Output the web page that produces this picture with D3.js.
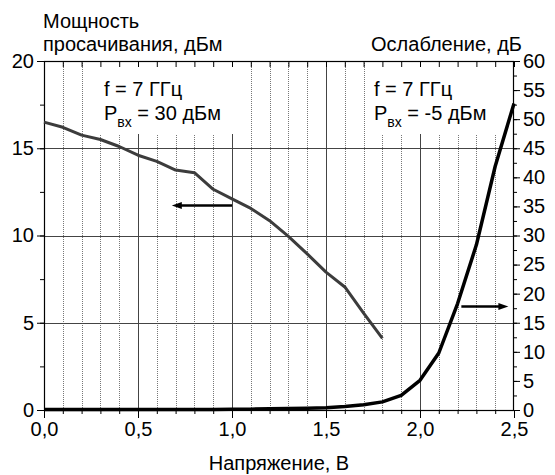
<!DOCTYPE html>
<html>
<head>
<meta charset="utf-8">
<script src="https://cdn.jsdelivr.net/npm/d3@7"></script>
<style>
  body { margin: 0; background: #fff; }
  text { font-family: "Liberation Sans", Arial, sans-serif; fill: #000; }
</style>
</head>
<body>
<script>
// voltage points, V
var voltsLeak = [0.0, 0.1, 0.2, 0.3, 0.4, 0.5, 0.6, 0.7, 0.8, 0.9, 1.0, 1.1, 1.2, 1.3, 1.4, 1.5, 1.6, 1.7, 1.8];
var leakPower = [16.5, 16.2, 15.75, 15.5, 15.1, 14.6, 14.25, 13.75, 13.6, 12.65, 12.1, 11.55, 10.85, 9.95, 8.95, 7.9, 7.05, 5.55, 4.1];

var voltsAtt = [0.0, 0.1, 0.2, 0.3, 0.4, 0.5, 0.6, 0.7, 0.8, 0.9, 1.0, 1.1, 1.2, 1.3, 1.4, 1.5, 1.6, 1.7, 1.8, 1.9, 2.0, 2.1, 2.2, 2.3, 2.4, 2.5];
var attenuation = [0.1, 0.1, 0.1, 0.1, 0.1, 0.1, 0.1, 0.1, 0.1, 0.1, 0.12, 0.15, 0.2, 0.25, 0.3, 0.4, 0.6, 0.9, 1.4, 2.5, 5.1, 9.8, 18.3, 28.4, 41.9, 52.7];

var xTickLabels = ["0,0", "0,5", "1,0", "1,5", "2,0", "2,5"];
var xTickValues = [0, 0.5, 1.0, 1.5, 2.0, 2.5];
var leftTicks = [0, 5, 10, 15, 20];
var rightTicks = [0, 5, 10, 15, 20, 25, 30, 35, 40, 45, 50, 55, 60];

// arrows: [x1, y1, x2, y2] in data units (left / right axis)
var leakArrow = [1.0, 11.72, 0.68, 11.72];
var attArrow = [2.22, 17.8, 2.47, 17.8];

function main() {
    var width = 555;
    var height = 475;
    var left = 44, right = 514, top = 61, bottom = 410;
    var fs = '20px';

    var svg = d3.select('body')
                .append('svg')
                .attr('width', width)
                .attr('height', height);

    var x = d3.scaleLinear().domain([0, 2.5]).range([left, right]);
    var yL = d3.scaleLinear().domain([0, 20]).range([bottom, top]);
    var yR = d3.scaleLinear().domain([0, 60]).range([bottom, top]);

    var fine = d3.range(0, 26).map(function(i) { return i / 10; });

    // vertical grid
    svg.selectAll('.vgrid')
       .data(fine.filter(function(v, i) { return i > 0 && i < 25 && i % 5 != 0; }))
       .enter()
       .append('line')
       .attr('x1', function(d) { return Math.round(x(d)) + 0.5; })
       .attr('x2', function(d) { return Math.round(x(d)) + 0.5; })
       .attr('y1', top)
       .attr('y2', bottom)
       .style('stroke', '#777')
       .style('stroke-width', 1)
       .style('stroke-dasharray', '1,1');

    svg.selectAll('.vmajor')
       .data([0.5, 1.0, 1.5, 2.0])
       .enter()
       .append('line')
       .attr('x1', function(d) { return Math.round(x(d)) + 0.5; })
       .attr('x2', function(d) { return Math.round(x(d)) + 0.5; })
       .attr('y1', top)
       .attr('y2', bottom)
       .style('stroke', '#444')
       .style('stroke-width', 1);

    // horizontal grid
    svg.selectAll('.hgrid')
       .data([5, 10, 15])
       .enter()
       .append('line')
       .attr('x1', left)
       .attr('x2', right)
       .attr('y1', function(d) { return Math.round(yL(d)) + 0.5; })
       .attr('y2', function(d) { return Math.round(yL(d)) + 0.5; })
       .style('stroke', '#444')
       .style('stroke-width', 1);

    // white boxes behind the notes
    svg.append('rect')
       .attr('x', 90).attr('y', top).attr('width', 150).attr('height', 73)
       .style('fill', '#fff');
    svg.append('rect')
       .attr('x', 371).attr('y', top).attr('width', 133).attr('height', 73)
       .style('fill', '#fff');

    // axes
    var fineTicks = fine.filter(function(v, i) { return i % 5 != 0; });

    svg.append('g')
       .attr('transform', 'translate(0,' + bottom + ')')
       .call(d3.axisBottom(x).tickValues(fineTicks).tickSize(4).tickFormat(''))
       .call(function(g) { g.select('.domain').remove(); });
    svg.append('g')
       .attr('transform', 'translate(0,' + bottom + ')')
       .call(d3.axisBottom(x).tickValues(xTickValues).tickSize(8).tickPadding(4)
               .tickFormat(function(d, i) { return xTickLabels[i]; }))
       .call(function(g) {
           g.select('.domain').remove();
           g.selectAll('text').style('font-size', fs);
       });
    svg.append('g')
       .attr('transform', 'translate(0,' + top + ')')
       .call(d3.axisTop(x).tickValues(fine).tickSize(-6).tickFormat(''))
       .call(function(g) { g.select('.domain').remove(); });

    svg.append('g')
       .attr('transform', 'translate(' + left + ',0)')
       .call(d3.axisLeft(yL).tickValues(d3.range(0, 21, 2.5)).tickSize(4).tickFormat(''))
       .call(function(g) { g.select('.domain').remove(); });
    svg.append('g')
       .attr('transform', 'translate(' + left + ',0)')
       .call(d3.axisLeft(yL).tickValues(leftTicks).tickSize(7).tickPadding(3))
       .call(function(g) {
           g.select('.domain').remove();
           g.selectAll('text').style('font-size', fs);
       });

    svg.append('g')
       .attr('transform', 'translate(' + right + ',0)')
       .call(d3.axisRight(yR).tickValues(d3.range(0, 61, 2.5)).tickSize(3).tickFormat(''))
       .call(function(g) { g.select('.domain').remove(); });
    svg.append('g')
       .attr('transform', 'translate(' + right + ',0)')
       .call(d3.axisRight(yR).tickValues(rightTicks).tickSize(6).tickPadding(3))
       .call(function(g) {
           g.select('.domain').remove();
           g.selectAll('text').style('font-size', fs);
       });

    svg.selectAll('.tick line').style('stroke', '#000');

    // frame
    svg.append('rect')
       .attr('x', left + 0.5).attr('y', top + 0.5)
       .attr('width', right - left - 1).attr('height', bottom - top)
       .style('fill', 'none')
       .style('stroke', '#000')
       .style('stroke-width', 1.2);

    // curves
    var leakLine = d3.line()
                     .x(function(d, i) { return x(voltsLeak[i]); })
                     .y(function(d) { return yL(d); });
    svg.append('path')
       .attr('d', leakLine(leakPower))
       .style('fill', 'none')
       .style('stroke', '#3c3c3c')
       .style('stroke-width', 3)
       .style('stroke-linejoin', 'round');

    var attLine = d3.line()
                    .x(function(d, i) { return x(voltsAtt[i]); })
                    .y(function(d) { return yR(d); });
    svg.append('path')
       .attr('d', attLine(attenuation))
       .style('fill', 'none')
       .style('stroke', '#000')
       .style('stroke-width', 3.5)
       .style('stroke-linejoin', 'round');

    // arrows
    var arrow = function(a, ys) {
        var x1 = x(a[0]), y1 = ys(a[1]), x2 = x(a[2]), y2 = ys(a[3]);
        var dir = x2 > x1 ? 1 : -1;
        svg.append('line')
           .attr('x1', x1).attr('y1', y1)
           .attr('x2', x2 - dir * 8).attr('y2', y2)
           .style('stroke', '#000')
           .style('stroke-width', 2.5);
        svg.append('path')
           .attr('d', 'M' + x2 + ',' + y2 + 'L' + (x2 - dir * 10) + ',' + (y2 - 3.5) +
                      'L' + (x2 - dir * 10) + ',' + (y2 + 3.5) + 'Z')
           .style('fill', '#000');
    };
    arrow(leakArrow, yL);
    arrow(attArrow, yR);

    // notes
    var note = function(xp, pin) {
        svg.append('text')
           .attr('x', xp).attr('y', 96)
           .style('font-size', fs)
           .text('f = 7 ГГц');
        var t = svg.append('text')
                   .attr('x', xp).attr('y', 120)
                   .style('font-size', fs);
        t.append('tspan').text('P');
        t.append('tspan').attr('dy', 7).style('font-size', '14px').text('вх');
        t.append('tspan').attr('dy', -7).text(' = ' + pin + ' дБм');
    };
    note(104, '30');
    note(374, '-5');

    // axis titles
    svg.append('text')
       .attr('x', 43).attr('y', 28)
       .style('font-size', fs)
       .text('Мощность');
    svg.append('text')
       .attr('x', 43).attr('y', 51)
       .style('font-size', fs)
       .text('просачивания, дБм');
    svg.append('text')
       .attr('x', 522).attr('y', 51)
       .attr('text-anchor', 'end')
       .style('font-size', fs)
       .text('Ослабление, дБ');
    svg.append('text')
       .attr('x', 279).attr('y', 470)
       .attr('text-anchor', 'middle')
       .style('font-size', fs)
       .text('Напряжение, В');
}
main();
</script>
</body>
</html>
